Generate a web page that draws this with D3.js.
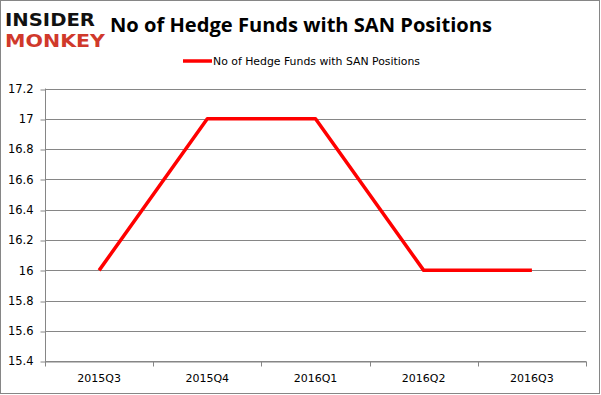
<!DOCTYPE html>
<html><head><meta charset="utf-8">
<script src="https://cdn.jsdelivr.net/npm/d3@7"></script>
<style>body{margin:0;background:#fff}svg{display:block}</style>
</head><body>
<svg id="c" width="601" height="395"></svg>
<script>
const categories = ["2015Q3","2015Q4","2016Q1","2016Q2","2016Q3"];
const values = [16,17,17,16,16];
const yTicks = [15.4,15.6,15.8,16,16.2,16.4,16.6,16.8,17,17.2];
const seriesName = "No of Hedge Funds with SAN Positions";
const title = "No of Hedge Funds with SAN Positions";

const svg = d3.select("#c");
const W=601,H=395;
const m={l:45,r:586,t:88.5,b:361.3};
svg.append("rect").attr("x",0.5).attr("y",0.5).attr("width",W-2).attr("height",H-2)
  .attr("fill","#fff").attr("stroke","#868686").attr("stroke-width",1);

const x = d3.scaleBand().domain(categories).range([m.l,m.r]);
const y = d3.scaleLinear().domain([15.4,17.2]).range([m.b,m.t]);

// gridlines
svg.append("g").selectAll("line").data(yTicks).join("line")
  .attr("x1",m.l).attr("x2",m.r)
  .attr("y1",d=>Math.round(y(d))+0.5).attr("y2",d=>Math.round(y(d))+0.5)
  .attr("stroke","#868686").attr("stroke-width",1);

// y axis
const ya = svg.append("g").attr("transform",`translate(${m.l+0.5},0)`)
  .call(d3.axisLeft(y).tickValues(yTicks).tickSize(5).tickFormat(d=>d3.format("")(+d.toFixed(1))));
ya.select(".domain").attr("stroke","#868686").attr("d",`M-0,${m.t}V${m.b}`);
ya.selectAll(".tick line").attr("stroke","#868686").attr("transform",d=>`translate(0,${Math.round(y(d))+0.5-y(d)})`);
ya.selectAll(".tick text").attr("font-family","Tahoma, 'DejaVu Sans', sans-serif").attr("font-size",11.5).attr("fill","#000").attr("x",-12);

// x axis
const xa = svg.append("g").attr("transform",`translate(0,${Math.round(m.b)+0.5})`)
  .call(d3.axisBottom(x).tickSize(0).tickPadding(13));
xa.select(".domain").attr("stroke","#868686");
xa.selectAll(".tick text").attr("font-family","Tahoma, 'DejaVu Sans', sans-serif").attr("font-size",11).attr("fill","#000");
xa.append("g").selectAll("line").data(d3.range(categories.length+1)).join("line")
  .attr("x1",i=>Math.round(m.l+i*x.step())+0.5).attr("x2",i=>Math.round(m.l+i*x.step())+0.5)
  .attr("y1",0).attr("y2",5).attr("stroke","#868686");

// line
const line = d3.line().x((d,i)=>x(categories[i])+x.bandwidth()/2).y(d=>y(d));
svg.append("path").datum(values).attr("d",line).attr("fill","none")
  .attr("stroke","#ff0000").attr("stroke-width",3.5).attr("stroke-linejoin","round");

// title
svg.append("text").attr("x",110).attr("y",32)
  .attr("font-family","'Open Sans', 'Noto Sans', sans-serif").attr("font-weight","bold").attr("font-size",19.5)
  .attr("textLength",382).attr("lengthAdjust","spacingAndGlyphs")
  .attr("fill","#000").text(title);

// legend
svg.append("line").attr("x1",183).attr("x2",212).attr("y1",61).attr("y2",61)
  .attr("stroke","#ff0000").attr("stroke-width",3.5);
svg.append("text").attr("x",213).attr("y",65).attr("font-family","'DejaVu Sans', Tahoma, sans-serif")
  .attr("font-size",11).attr("textLength",207).attr("lengthAdjust","spacingAndGlyphs").attr("fill","#000").text(seriesName);

// logo
svg.append("text").attr("x",5).attr("y",26).attr("font-family","'DejaVu Sans', sans-serif").attr("font-weight","bold")
  .attr("font-size",18).attr("textLength",90).attr("lengthAdjust","spacingAndGlyphs").attr("fill","#111").text("INSIDER");
svg.append("text").attr("x",5).attr("y",47).attr("font-family","'DejaVu Sans', sans-serif").attr("font-weight","bold")
  .attr("font-size",18).attr("textLength",100).attr("lengthAdjust","spacingAndGlyphs").attr("fill","#d0392b").text("MONKEY");
</script>
</body></html>
